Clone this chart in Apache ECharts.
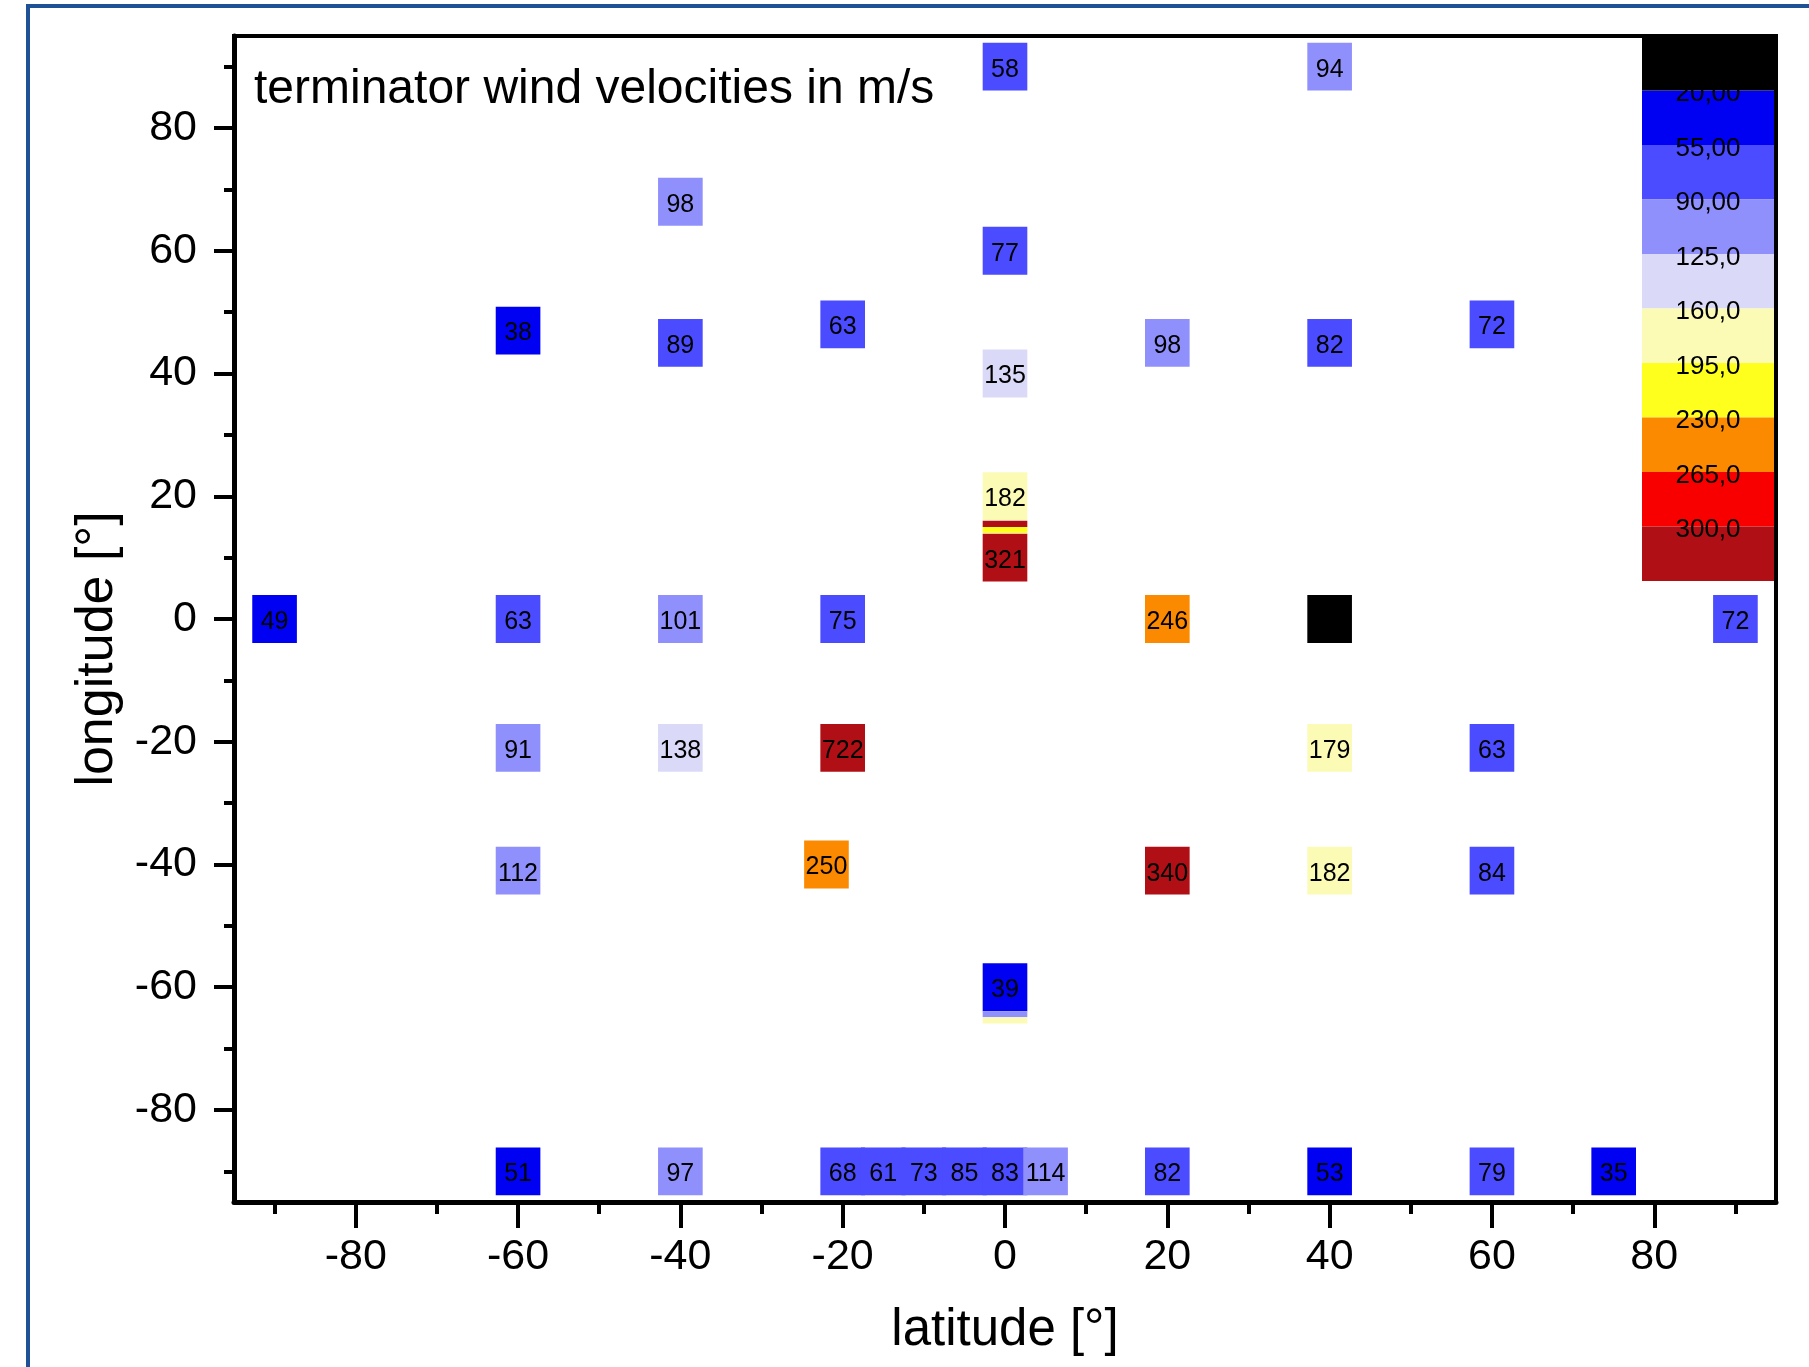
<!DOCTYPE html>
<html>
<head>
<meta charset="utf-8">
<title>terminator wind velocities</title>
<script src="https://cdn.jsdelivr.net/npm/echarts@6/dist/echarts.min.js"></script>
<style>
  html, body { margin: 0; padding: 0; background: #fff; }
  #chart { width: 1809px; height: 1367px; }
</style>
</head>
<body>
<div id="chart"></div>
<script>
// cell data: latitude, longitude, wind speed (m/s)
var lat = [0, 40, -40, 0, -60, -40, -20, 0, 20, 40, 60,
           0, 0,
           -90, -60, -40, -20, 20, 40, 90,
           -60, -40, -20, 40, 60,
           -60, -22, 20, 40, 60,
           0,
           -60, -40, -20, -15, -10, -5, 0, 5, 20, 40, 60, 75];
var lon = [90, 90, 68, 60, 47, 45, 48, 40, 45, 45, 48,
           20, 10,
           0, 0, 0, 0, 0, 0, 0,
           -21, -21, -21, -21, -21,
           -41, -40, -41, -41, -41,
           -60,
           -90, -90, -90, -90, -90, -90, -90, -90, -90, -90, -90, -90];
var speed = [58, 94, 98, 77, 38, 89, 63, 135, 98, 82, 72,
             182, 321,
             49, 63, 101, 75, 246, 15, 72,
             91, 138, 722, 179, 63,
             112, 250, 340, 182, 84,
             39,
             51, 97, 68, 61, 73, 85, 83, 114, 82, 53, 79, 35];

// thin seams visible between some cells
var seamLat = [0, 0, 0, 0];
var seamLon = [15.5, 14.5, -64.4, -65.4];
var seamSpeed = [310, 210, 100, 170];

// colour scale
var bandEdges = [20, 55, 90, 125, 160, 195, 230, 265, 300];
var bandLabels = ['20,00', '55,00', '90,00', '125,0', '160,0', '195,0', '230,0', '265,0', '300,0'];
var bandColors = ['#000000', '#0000f2', '#4b4bff', '#9090fc', '#dadaf8', '#fbfbb5', '#ffff1e', '#fb8a00', '#f80000', '#b00f15'];

// ticks
var majorTicks = [-80, -60, -40, -20, 0, 20, 40, 60, 80];
var minorTicks = [-90, -70, -50, -30, -10, 10, 30, 50, 70, 90];

var FONT = "'Liberation Sans', Arial, sans-serif";
var CELL_W = 5.5, CELL_H = 7.8, SEAM_H = 1.0;

var cells = lat.map(function (x, i) { return [x, lon[i], speed[i]]; });
var seams = seamLat.map(function (x, i) { return [x, seamLon[i], seamSpeed[i]]; });

var pieces = bandColors.map(function (c, i) {
  var p = { color: c };
  if (i > 0) p.gte = bandEdges[i - 1];
  if (i < bandEdges.length) p.lt = bandEdges[i];
  return p;
});

function cellRenderer(h, withText) {
  return function (params, api) {
    var c = api.coord([api.value(0), api.value(1)]);
    var s = api.size([CELL_W, h]);
    var v = api.value(2);
    var kids = [{
      type: 'rect',
      shape: { x: c[0] - s[0] / 2, y: c[1] - s[1] / 2, width: s[0], height: s[1] },
      style: { fill: api.visual('color') }
    }];
    if (withText && v >= bandEdges[0]) {
      kids.push({
        type: 'text', x: c[0], y: c[1] + 3,
        style: { text: String(v), font: '25px ' + FONT, fill: '#000', align: 'center', verticalAlign: 'middle' }
      });
    }
    return { type: 'group', children: kids };
  };
}

var chart = echarts.init(document.getElementById('chart'));

var legendSeries = bandColors.map(function (c, i) {
  return {
    type: 'bar', xAxisIndex: 2, yAxisIndex: 2, stack: 'scale',
    data: [1], barWidth: '100%', silent: true,
    itemStyle: { color: c },
    z: i === 0 ? 5 : 2
  };
});

var tickLine = { color: '#000', width: 4 };

var option = {
  animation: false,
  backgroundColor: '#fff',
  title: {
    text: 'terminator wind velocities in m/s',
    left: 254, top: 66, padding: 0,
    textStyle: { fontFamily: FONT, fontSize: 48, fontWeight: 'normal', color: '#000' }
  },
  graphic: [{
    type: 'rect', silent: true,
    shape: { x: 28, y: 6, width: 2000, height: 2000 },
    style: { fill: 'none', stroke: '#1f5197', lineWidth: 4 }
  }],
  grid: [
    { left: 234, top: 36, width: 1542, height: 1166, show: true, borderColor: '#000', borderWidth: 4 },
    { left: 1642, top: 36, width: 132, height: 545 }
  ],
  visualMap: {
    show: false, type: 'piecewise', dimension: 2, seriesIndex: [0, 1],
    pieces: pieces
  },
  xAxis: [
    {
      type: 'value', gridIndex: 0, min: -95, max: 95, position: 'bottom',
      axisLine: { show: true, onZero: false, lineStyle: { color: '#000', width: 5 } },
      axisTick: { show: true, customValues: majorTicks, length: 26, lineStyle: tickLine },
      axisLabel: { customValues: majorTicks, fontFamily: FONT, fontSize: 43, color: '#000', margin: 34 },
      splitLine: { show: false },
      name: 'latitude [°]', nameLocation: 'middle', nameGap: 103,
      nameTextStyle: { fontFamily: FONT, fontSize: 51, color: '#000' }
    },
    {
      type: 'value', gridIndex: 0, min: -95, max: 95, position: 'bottom',
      axisLine: { show: false, onZero: false },
      axisTick: { show: true, customValues: minorTicks, length: 12, lineStyle: tickLine },
      axisLabel: { show: false }, splitLine: { show: false }
    },
    { type: 'category', gridIndex: 1, data: [''], show: false }
  ],
  yAxis: [
    {
      type: 'value', gridIndex: 0, min: -95, max: 95, position: 'left',
      axisLine: { show: true, onZero: false, lineStyle: { color: '#000', width: 5 } },
      axisTick: { show: true, customValues: majorTicks, length: 20, lineStyle: tickLine },
      axisLabel: { customValues: majorTicks, fontFamily: FONT, fontSize: 43, color: '#000', margin: 37, padding: [4, 0, 0, 0] },
      splitLine: { show: false },
      name: 'longitude [°]', nameLocation: 'middle', nameGap: 107,
      nameTextStyle: { fontFamily: FONT, fontSize: 52, color: '#000', padding: [0, 60, 0, 0] }
    },
    {
      type: 'value', gridIndex: 0, min: -95, max: 95, position: 'left',
      axisLine: { show: false, onZero: false },
      axisTick: { show: true, customValues: minorTicks, length: 10, lineStyle: tickLine },
      axisLabel: { show: false }, splitLine: { show: false }
    },
    {
      type: 'value', gridIndex: 1, min: 0, max: 10, interval: 1, inverse: true, z: 3,
      axisLine: { show: false }, axisTick: { show: false }, splitLine: { show: false },
      axisLabel: {
        inside: true, align: 'center', margin: 66, verticalAlign: 'top', lineHeight: 7,
        fontFamily: FONT, fontSize: 26, color: '#000',
        formatter: function (v) { return bandLabels[v - 1] || ''; }
      }
    }
  ],
  series: [
    {
      type: 'custom', xAxisIndex: 0, yAxisIndex: 0, silent: true,
      renderItem: cellRenderer(CELL_H, true),
      data: cells, z: 3
    },
    {
      type: 'custom', xAxisIndex: 0, yAxisIndex: 0, silent: true,
      renderItem: cellRenderer(SEAM_H, false),
      data: seams, z: 3
    }
  ].concat(legendSeries)
};

chart.setOption(option);
</script>
</body>
</html>
